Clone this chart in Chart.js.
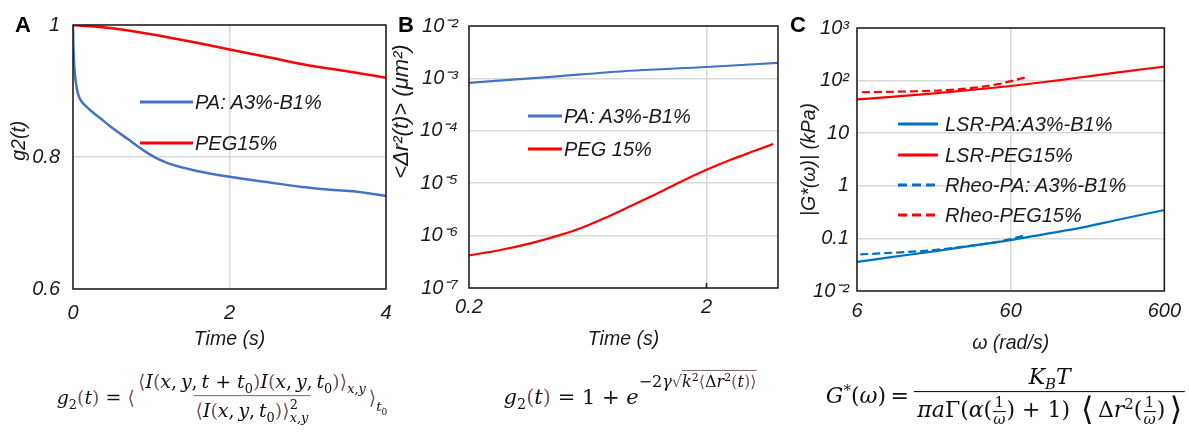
<!DOCTYPE html>
<html><head><meta charset="utf-8">
<script src="https://cdn.jsdelivr.net/npm/chart.js@4.4.1/dist/chart.umd.min.js"></script>
<style>
html,body{margin:0;padding:0;background:#fff;}
#wrap{position:relative;width:1189px;height:437px;overflow:hidden;background:#fff;}
canvas{position:absolute;left:0;top:0;}
.lbl{position:absolute;font:bold 22px 'Liberation Sans',Arial,sans-serif;color:#000;line-height:1;}
.leg{position:absolute;display:flex;align-items:center;font:italic 20px 'Liberation Sans',Arial,sans-serif;color:#1a1a1a;white-space:nowrap;transform:translateY(-50%);}
.leg .s{display:inline-block;height:2.5px;}
.fm{position:absolute;display:flex;align-items:center;transform:translate(-50%,-50%);font-family:'DejaVu Serif',serif;font-size:21px;color:#111;white-space:nowrap;line-height:1.15;}
.fm sub,.fm sup{font-size:0.68em;line-height:0;}
.fr{display:inline-flex;flex-direction:column;align-items:center;margin:0 1px;}
.fr .n{padding:0 2px 2px;}
.fr .d{border-top:1.4px solid #806060;padding:3px 2px 0;}
.ss{display:inline-flex;flex-direction:column;font-size:0.68em;line-height:1.0;vertical-align:middle;}
.br{color:#7b5656;}
.ex{font-size:16px !important;vertical-align:baseline !important;position:relative;top:-17px;}
.ex sup{font-size:11px;}
.ov{border-top:1px solid #806060;padding-top:1px;}
.lo{font-size:0.7em;position:relative;top:9px;}
.sf{display:inline-flex;flex-direction:column;align-items:center;font-size:15px;line-height:1.05;vertical-align:middle;padding:0 1px;}
.sf .sd{border-top:1px solid #000;}
.bigb{font-size:32px;line-height:0;vertical-align:-3px;}
</style></head><body><div id="wrap">
<canvas id="cA" width="1189" height="437"></canvas>
<canvas id="cB" width="1189" height="437"></canvas>
<canvas id="cC" width="1189" height="437"></canvas>

<div class="lbl" style="left:15px;top:14px">A</div>
<div class="lbl" style="left:398px;top:14px">B</div>
<div class="lbl" style="left:790px;top:14px">C</div>

<div class="leg" style="left:140px;top:102px"><span class="s" style="width:53px;background:#4472c4;margin-right:2px"></span>PA: A3%-B1%</div>
<div class="leg" style="left:140px;top:143px"><span class="s" style="width:53px;background:#ff0000;margin-right:2px"></span>PEG15%</div>

<div class="leg" style="left:528px;top:116px"><span class="s" style="width:34px;background:#4472c4;margin-right:2px"></span>PA: A3%-B1%</div>
<div class="leg" style="left:528px;top:149px"><span class="s" style="width:34px;background:#ff0000;margin-right:2px"></span>PEG 15%</div>

<div class="leg" style="left:898px;top:124px"><span class="s" style="width:40px;background:#0070c0;margin-right:7px"></span>LSR-PA:A3%-B1%</div>
<div class="leg" style="left:898px;top:155px"><span class="s" style="width:40px;background:#ff0000;margin-right:7px"></span>LSR-PEG15%</div>
<div class="leg" style="left:898px;top:185px"><span class="s" style="width:40px;background:repeating-linear-gradient(90deg,#0070c0 0 9px,transparent 9px 14px);margin-right:7px"></span>Rheo-PA: A3%-B1%</div>
<div class="leg" style="left:898px;top:215px"><span class="s" style="width:40px;background:repeating-linear-gradient(90deg,#ff0000 0 9px,transparent 9px 14px);margin-right:7px"></span>Rheo-PEG15%</div>

<div class="fm" style="left:222px;top:398px;font-size:19px">
<span><i>g</i><sub>2</sub><span class="br">(</span><i>t</i><span class="br">)</span>&nbsp;=&nbsp;</span><span class="br">⟨</span><span class="fr"><span class="n"><span class="br">⟨</span><i>I</i><span class="br">(</span><i>x</i>,&thinsp;<i>y</i>,&thinsp;<i>t</i>&nbsp;+&nbsp;<i>t</i><sub>0</sub><span class="br">)</span><i>I</i><span class="br">(</span><i>x</i>,&thinsp;<i>y</i>,&thinsp;<i>t</i><sub>0</sub><span class="br">)⟩</span><sub><i>x,y</i></sub></span><span class="d"><span class="br">⟨</span><i>I</i><span class="br">(</span><i>x</i>,&thinsp;<i>y</i>,&thinsp;<i>t</i><sub>0</sub><span class="br">)⟩</span><span class="ss"><span>2</span><span><i>x,y</i></span></span></span></span><span class="br">⟩</span><span class="lo"><i>t</i><sub>0</sub></span>
</div>

<div class="fm" style="left:630px;top:397px">
<span><i>g</i><sub>2</sub><span class="br">(</span><i>t</i><span class="br">)</span>&nbsp;=&nbsp;1&nbsp;+&nbsp;<i>e</i><sup class="ex">−2<i>γ</i><span class="br">√</span><span class="ov"><i>k</i><sup>2</sup><span class="br">⟨</span>Δ<i>r</i><sup>2</sup><span class="br">(</span><i>t</i><span class="br">)⟩</span></span></sup></span>
</div>

<div class="fm" style="left:1006px;top:396px;font-size:22px">
<span><i>G</i><sup>*</sup>(<i>ω</i>)&thinsp;=&thinsp;</span><span class="fr"><span class="n"><i>K</i><sub><i>B</i></sub><i>T</i></span><span class="d" style="border-top-color:#000;padding:3px 3px 0"><i>π</i><i>a</i>Γ(<i>α</i>(<span class="sf"><span>1</span><span class="sd"><i>ω</i></span></span>)&nbsp;+&nbsp;1)&ensp;<span class="bigb">⟨</span>&thinsp;Δ<i>r</i><sup>2</sup>(<span class="sf"><span>1</span><span class="sd"><i>ω</i></span></span>)&thinsp;<span class="bigb">⟩</span></span></span>
</div>
</div>

<script>
// ---------- Panel A data ----------
const timeA_PA = [0, 0.004, 0.017, 0.038, 0.068, 0.11, 0.175, 0.26, 0.345, 0.47, 0.69, 0.98, 1.2, 1.62, 2.0, 2.47, 2.9, 3.33, 3.58, 4.0];
const g2_PA    = [1.0, 0.972, 0.937, 0.912, 0.894, 0.884, 0.876, 0.867, 0.859, 0.847, 0.828, 0.804, 0.791, 0.778, 0.770, 0.762, 0.755, 0.750, 0.748, 0.741];
const timeA_PEG = [0, 0.5, 1, 1.5, 2, 2.5, 3, 3.5, 4];
const g2_PEG    = [1.0, 0.995, 0.986, 0.975, 0.963, 0.951, 0.939, 0.930, 0.920];
const xTicksA = [0, 2, 4];
const xTickLabelsA = ['0', '2', '4'];
const yTicksA = [0.6, 0.8, 1];
const yTickLabelsA = ['0.6', '0.8', '1'];

// ---------- Panel B data ----------
const timeB_PA = [0.2, 0.43, 0.96, 2.0, 4.0];
const msd_PA   = [8.2e-4, 1.06e-3, 1.40e-3, 1.65e-3, 1.98e-3];
const timeB_PEG = [0.2, 0.265, 0.366, 0.474, 0.594, 0.769, 0.964, 1.245, 1.56, 2.0, 2.53, 3.17, 3.82];
const msd_PEG   = [4.2e-7, 5.2e-7, 7.2e-7, 1.0e-6, 1.4e-6, 2.3e-6, 3.7e-6, 6.4e-6, 1.07e-5, 1.8e-5, 2.8e-5, 4.1e-5, 5.6e-5];
const xTicksB = [0.2, 2];
const xTickLabelsB = ['0.2', '2'];
const yTicksB = [1e-7, 1e-6, 1e-5, 1e-4, 1e-3, 1e-2];
const yTickLabelsB = ['10⁻⁷', '10⁻⁶', '10⁻⁵', '10⁻⁴', '10⁻³', '10⁻²'];

// ---------- Panel C data ----------
const omegaLSR = [6, 10, 20, 40, 60, 100, 177, 300, 600];
const gLSR_PA  = [0.0358, 0.044, 0.058, 0.078, 0.093, 0.121, 0.162, 0.226, 0.346];
const gLSR_PEG = [44, 49, 58, 70, 79, 94, 117, 143, 185];
const omegaRheo_PA = [6.3, 18.8, 39.6, 53.4, 72];
const gRheo_PA     = [0.0495, 0.060, 0.078, 0.090, 0.112];
const omegaRheo_PEG = [6.46, 14.7, 24.2, 39.6, 50.9, 74];
const gRheo_PEG     = [60, 62.8, 66.5, 77, 86.5, 114];
const xTicksC = [6, 60, 600];
const xTickLabelsC = ['6', '60', '600'];
const yTicksC = [0.01, 0.1, 1, 10, 100, 1000];
const yTickLabelsC = ['10⁻²', '0.1', '1', '10', '10²', '10³'];

// ---------- helpers ----------
const W = 1189, H = 437;
const FAM = "'Liberation Sans', Arial, sans-serif";
const tickFont = {family: FAM, style: 'italic', size: 20};
const titleFont = {family: FAM, style: 'italic', size: 19.5};
const INK = '#1a1a1a';
const GRID = '#d9d9d9';

const zip = (xs, ys) => xs.map((x, i) => ({x, y: ys[i]}));
const fixedTicks = vals => s => { s.ticks = vals.map(v => ({value: v})); };

const boxPlugin = {
  id: 'box',
  afterDraw(chart, args, opts) {
    const {ctx, chartArea: a} = chart;
    ctx.save();
    ctx.strokeStyle = '#1a1a1a';
    ctx.lineWidth = 1.5;
    ctx.strokeRect(a.left, a.top, a.right - a.left, a.bottom - a.top);
    if (opts && opts.innerTicks) {
      const xs = chart.scales.x;
      opts.innerTicks.forEach(v => {
        const px = xs.getPixelForValue(v);
        ctx.beginPath(); ctx.moveTo(px, a.bottom); ctx.lineTo(px, a.bottom - 5); ctx.stroke();
      });
    }
    ctx.restore();
  }
};

function makePanel(id, area, yAxisW, x, y, datasets, innerTicks) {
  return new Chart(document.getElementById(id), {
    type: 'line',
    data: {datasets},
    options: {
      responsive: false, animation: false, devicePixelRatio: 1,
      layout: {padding: {left: area.left - yAxisW, top: area.top, right: W - area.right, bottom: 0}},
      plugins: {legend: {display: false}, tooltip: {enabled: false}, box: {innerTicks: innerTicks || null}},
      elements: {point: {radius: 0}, line: {cubicInterpolationMode: 'monotone'}},
      scales: {
        x: {
          type: x.type, min: x.min, max: x.max,
          afterBuildTicks: fixedTicks(x.ticks),
          afterFit: s => { s.height = H - area.bottom; },
          ticks: {callback: (v, i) => x.labels[i], font: tickFont, color: INK, padding: x.pad, autoSkip: false, maxRotation: 0, minRotation: 0},
          grid: {color: GRID, lineWidth: 1.5, drawTicks: false},
          border: {display: false},
          title: {display: true, text: x.title, font: titleFont, color: INK, padding: {top: 0, bottom: x.titleBottom}}
        },
        y: {
          type: y.type, min: y.min, max: y.max,
          afterBuildTicks: fixedTicks(y.ticks),
          afterFit: s => { s.width = yAxisW; },
          ticks: {callback: (v, i) => y.labels[i], font: tickFont, color: INK, padding: y.pad, autoSkip: false},
          grid: {color: GRID, lineWidth: 1.5, drawTicks: false},
          border: {display: false},
          title: {display: true, text: y.title, align: y.titleAlign || 'center', font: Object.assign({}, titleFont, y.titleFont || {}), color: INK, padding: {top: y.titlePad, bottom: 0}}
        }
      }
    },
    plugins: [boxPlugin]
  });
}

// ---------- Panel A ----------
makePanel('cA', {left: 73, top: 25, right: 386, bottom: 289}, 73,
  {type: 'linear', min: 0, max: 4, ticks: xTicksA, labels: xTickLabelsA, pad: 12, title: 'Time (s)', titleBottom: 86},
  {type: 'linear', min: 0.6, max: 1, ticks: yTicksA, labels: yTickLabelsA, pad: 13, title: '      g2(t)', titlePad: 8},
  [
    {data: zip(timeA_PA, g2_PA), borderColor: '#4472c4', borderWidth: 2.5},
    {data: zip(timeA_PEG, g2_PEG), borderColor: '#ff0000', borderWidth: 2.5}
  ]);

// ---------- Panel B ----------
makePanel('cB', {left: 469, top: 26, right: 778, bottom: 288}, 80,
  {type: 'logarithmic', min: 0.2, max: 4, ticks: xTicksB, labels: xTickLabelsB, pad: 7, title: 'Time (s)', titleBottom: 86},
  {type: 'logarithmic', min: 1e-7, max: 1e-2, ticks: yTicksB, labels: yTickLabelsB, pad: 11, title: '<Δr²(t)> (μm²)   ', titlePad: 0, titleAlign: 'end', titleFont: {size: 22}},
  [
    {data: zip(timeB_PA, msd_PA), borderColor: '#4472c4', borderWidth: 2.2},
    {data: zip(timeB_PEG, msd_PEG), borderColor: '#ff0000', borderWidth: 2.2}
  ], [2]);

// ---------- Panel C ----------
makePanel('cC', {left: 857, top: 28, right: 1166, bottom: 291}, 80,
  {type: 'logarithmic', min: 6, max: 600, ticks: xTicksC, labels: xTickLabelsC, pad: 8, title: 'ω (rad/s)', titleBottom: 82},
  {type: 'logarithmic', min: 0.01, max: 1000, ticks: yTicksC, labels: yTickLabelsC, pad: 8, title: '|G*(ω)| (kPa)', titlePad: 21},
  [
    {data: zip(omegaLSR, gLSR_PA), borderColor: '#0070c0', borderWidth: 2.2},
    {data: zip(omegaLSR, gLSR_PEG), borderColor: '#ff0000', borderWidth: 2.2},
    {data: zip(omegaRheo_PA, gRheo_PA), borderColor: '#0070c0', borderWidth: 2.2, borderDash: [8, 4]},
    {data: zip(omegaRheo_PEG, gRheo_PEG), borderColor: '#ff0000', borderWidth: 2.2, borderDash: [8, 4]}
  ]);
</script>
</body></html>
